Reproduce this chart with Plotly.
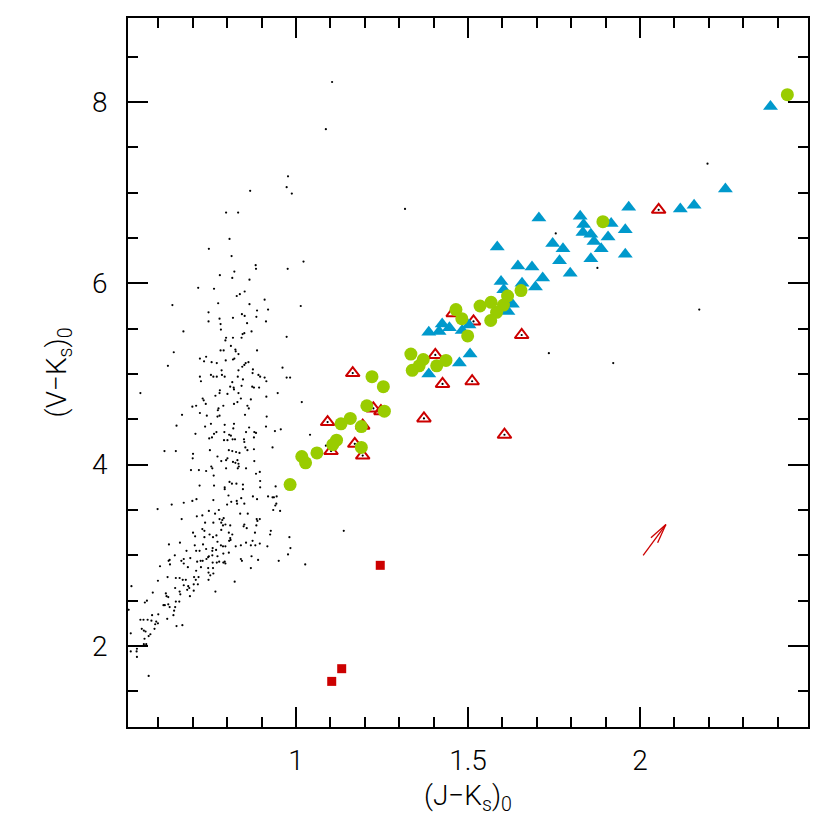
import math
import plotly.graph_objects as go

# field stars (small black dots)
field_jk = [1.105, 1.087, 0.977, 0.973, 0.988, 0.867, 0.797, 0.832, 0.807, 0.747, 0.813, 1.317, 1.022, 0.976,
            1.014, 0.973, 0.961, 0.973, 0.983, 1.017, 0.956, 1.041, 1.087, 1.735, 2.196, 1.755, 1.876, 2.172,
            1.922, 1.139, 1.027,
            0.883, 0.884, 0.821, 0.779, 0.815, 0.865, 0.716, 0.762, 0.851, 0.837, 0.828, 0.909, 0.641, 0.774,
            0.865, 0.919, 0.887, 0.746, 0.843, 0.851, 0.885, 0.778, 0.817, 0.746, 0.913, 0.858, 0.781, 0.782,
            0.673, 0.871, 0.850, 0.845, 0.797, 0.795, 0.817, 0.842, 0.811, 0.824, 0.825, 0.887, 0.781, 0.790,
            0.645, 0.833, 0.739, 0.721, 0.733, 0.755, 0.770, 0.796, 0.821, 0.817, 0.854, 0.850, 0.862, 0.844,
            0.628, 0.784, 0.833, 0.875, 0.874, 0.785, 0.793, 0.753, 0.770, 0.760, 0.721, 0.724, 0.831, 0.846,
            0.815, 0.891, 0.896, 0.909, 0.914, 0.548, 0.809, 0.819, 0.820, 0.842, 0.873, 0.878, 0.893, 0.779,
            0.778, 0.766, 0.801, 0.833, 0.840, 0.869, 0.729, 0.732, 0.738, 0.947, 0.914, 0.699, 0.710, 0.775,
            0.773, 0.789, 0.820, 0.830, 0.859, 0.863, 0.669, 0.721, 0.741, 0.772, 0.778, 0.852, 0.915, 0.653,
            0.736, 0.753, 0.793, 0.820, 0.818, 0.864, 0.879, 0.855, 0.913, 0.939, 0.708, 0.762, 0.769, 0.756,
            0.748, 0.792, 0.806, 0.811, 0.816, 0.791, 0.801, 0.823, 0.849, 0.850, 0.878, 0.884, 0.878, 0.618,
            0.651, 0.701, 0.700, 0.750, 0.805, 0.815, 0.826, 0.836, 0.859, 0.853, 0.932, 0.783, 0.772, 0.797,
            0.801, 0.817, 0.824, 0.833, 0.830, 0.834, 0.879, 0.695, 0.718, 0.739, 0.761, 0.754, 0.757, 0.797,
            0.831, 0.855, 0.884, 0.895,
            0.720, 0.762, 0.793, 0.793, 0.807, 0.814, 0.827, 0.846, 0.846, 0.896, 0.896, 0.941, 0.804, 0.812,
            0.828, 0.829, 0.850, 0.841, 0.875, 0.887, 0.919, 0.932, 0.936, 0.944, 0.943, 0.940, 0.934, 0.954,
            0.639, 0.674, 0.699, 0.711, 0.760, 0.800, 0.598, 0.747, 0.765, 0.776, 0.838, 0.860, 0.668, 0.712,
            0.728, 0.790, 0.786, 0.778, 0.886, 0.888, 0.895, 0.736, 0.760, 0.783, 0.795, 0.788, 0.850, 0.848,
            0.857, 0.885, 0.809, 0.728, 0.734, 0.701, 0.749, 0.769, 0.783, 0.805, 0.815, 0.881, 0.927, 0.925,
            0.707, 0.734, 0.759, 0.809, 0.806, 0.810, 0.663, 0.772, 0.631, 0.706, 0.730, 0.782, 0.788, 0.795,
            0.825, 0.840, 0.855, 0.869, 0.874, 0.882, 0.895, 0.917, 0.981, 0.984, 0.682, 0.710, 0.720, 0.739,
            0.758, 0.757, 0.768, 0.789, 0.805, 0.648, 0.674, 0.667, 0.633, 0.630, 0.693, 0.723, 0.729, 0.740,
            0.745, 0.747, 0.757, 0.772, 0.770, 0.758, 0.789, 0.793, 0.795, 0.777, 0.713, 0.840, 0.843, 0.871,
            0.890, 0.950, 0.977, 0.605, 0.634, 0.674, 0.686, 0.724, 0.745, 0.759, 0.869, 0.710, 0.746, 0.751,
            0.760, 0.522, 0.599, 0.627, 0.651, 0.662, 0.671, 0.680, 0.704, 0.709, 0.717, 0.746, 0.674, 0.687,
            0.703, 0.715, 0.822, 0.684, 0.690, 0.649, 0.662, 0.664, 0.692, 0.703, 0.766, 0.584, 0.622, 0.624,
            0.629, 0.567, 0.561, 0.651, 0.661, 0.514, 0.615, 0.619, 0.629, 0.633, 0.649, 0.646, 0.600, 0.582,
            0.626, 0.644, 0.548, 0.557, 0.569, 0.580, 0.594, 0.599, 0.591, 0.589, 0.552, 0.558, 0.563, 0.653,
            0.670, 0.520, 0.577, 0.572, 0.560, 0.558, 0.565, 0.520, 0.538, 0.537, 0.538, 0.572]
field_vk = [8.22, 7.70, 7.18, 7.06, 6.99, 7.02, 6.78, 6.78, 6.49, 6.38, 6.30, 6.82, 6.24, 6.16,
            5.75, 5.41, 5.07, 4.96, 4.96, 4.69, 4.39, 4.33, 4.21, 5.23, 7.32, 6.55, 6.17, 5.71,
            5.12, 3.27, 2.90,
            6.20, 6.16, 6.13, 6.09, 6.06, 6.04, 5.95, 5.94, 5.91, 5.88, 5.86, 5.82, 5.76, 5.78,
            5.77, 5.71, 5.70, 5.68, 5.66, 5.64, 5.63, 5.61, 5.62, 5.58, 5.58, 5.56, 5.55, 5.49,
            5.47, 5.47, 5.45, 5.44, 5.40, 5.37, 5.40, 5.40, 5.31, 5.27, 5.25, 5.26, 5.26, 5.26,
            5.24, 5.22, 5.19, 5.17, 5.14, 5.13, 5.12, 5.15, 5.17, 5.16, 5.12, 5.10, 5.13, 5.08,
            5.09, 5.04, 5.04, 5.05, 5.01, 4.99, 4.97, 4.99, 4.97, 4.97, 4.97, 4.92, 4.97, 4.94,
            4.91, 4.99, 4.97, 4.96, 4.92, 4.79, 4.86, 4.85, 4.83, 4.87, 4.86, 4.85, 4.85, 4.82,
            4.79, 4.76, 4.78, 4.79, 4.73, 4.72, 4.73, 4.71, 4.67, 4.79, 4.75, 4.64, 4.65, 4.62,
            4.60, 4.65, 4.67, 4.69, 4.65, 4.62, 4.55, 4.57, 4.54, 4.53, 4.54, 4.55, 4.53, 4.43,
            4.42, 4.45, 4.44, 4.45, 4.40, 4.41, 4.36, 4.36, 4.42, 4.37, 4.34, 4.34, 4.36, 4.30,
            4.29, 4.36, 4.33, 4.32, 4.28, 4.27, 4.27, 4.28, 4.28, 4.25, 4.30, 4.35, 4.17, 4.15,
            4.15, 4.12, 4.07, 4.16, 4.16, 4.15, 4.14, 4.13, 4.16, 4.19, 4.19, 4.04, 4.09, 4.05,
            4.07, 4.03, 4.02, 4.01, 4.05, 3.98, 4.04, 3.94, 3.94, 3.93, 3.88, 3.98, 3.96, 3.96,
            3.96, 3.96, 3.90, 3.92,
            3.77, 3.77, 3.75, 3.73, 3.81, 3.79, 3.79, 3.78, 3.73, 3.75, 3.82, 3.76, 3.66, 3.59,
            3.60, 3.57, 3.57, 3.63, 3.65, 3.62, 3.65, 3.64, 3.64, 3.65, 3.57, 3.55, 3.50, 3.49,
            3.56, 3.58, 3.60, 3.62, 3.61, 3.56, 3.51, 3.49, 3.46, 3.50, 3.46, 3.46, 3.40, 3.43,
            3.44, 3.41, 3.39, 3.40, 3.40, 3.38, 3.40, 3.36, 3.36, 3.36, 3.34, 3.33, 3.34, 3.32,
            3.30, 3.33, 3.33, 3.29, 3.27, 3.25, 3.23, 3.22, 3.28, 3.25, 3.23, 3.25, 3.27, 3.23,
            3.21, 3.20, 3.20, 3.19, 3.16, 3.17, 3.14, 3.15, 3.12, 3.11, 3.12, 3.11, 3.10, 3.10,
            3.10, 3.11, 3.14, 3.11, 3.16, 3.11, 3.13, 3.10, 3.20, 3.08, 3.05, 3.05, 3.05, 3.07,
            3.08, 3.05, 3.06, 3.02, 3.03, 3.00, 2.96, 2.94, 2.95, 2.94, 2.97, 2.94, 2.94, 2.96,
            2.98, 2.99, 3.00, 2.99, 2.92, 2.92, 2.92, 2.93, 2.91, 2.93, 2.93, 2.96, 2.94, 2.99,
            2.95, 2.94, 3.01, 2.88, 2.90, 2.91, 2.87, 2.87, 2.86, 2.86, 2.86, 2.83, 2.81, 2.78,
            2.80, 2.66, 2.72, 2.76, 2.75, 2.75, 2.73, 2.73, 2.76, 2.73, 2.76, 2.73, 2.67, 2.66,
            2.68, 2.68, 2.71, 2.62, 2.64, 2.64, 2.60, 2.57, 2.55, 2.61, 2.60, 2.59, 2.58, 2.55,
            2.54, 2.50, 2.48, 2.49, 2.49, 2.40, 2.45, 2.45, 2.46, 2.43, 2.43, 2.39, 2.35, 2.34,
            2.30, 2.34, 2.29, 2.29, 2.29, 2.28, 2.27, 2.25, 2.24, 2.19, 2.19, 2.17, 2.16, 2.22,
            2.23, 2.14, 2.13, 2.11, 2.08, 2.02, 2.02, 1.94, 1.97, 1.94, 1.88, 1.67]

# green filled circles
green_jk = [1.654, 1.615, 1.603, 1.583, 1.566, 1.567, 1.535, 1.465, 1.482, 1.499, 1.334, 1.370, 1.358,
            1.338, 1.409, 1.436, 1.221, 1.254, 1.206, 1.257, 1.158, 1.131, 1.190, 1.118, 1.107, 1.190,
            1.061, 1.017, 1.028, 0.983, 2.428, 1.892]
green_vk = [5.92, 5.86, 5.76, 5.68, 5.59, 5.79, 5.75, 5.71, 5.61, 5.42, 5.22, 5.16, 5.09,
            5.04, 5.09, 5.15, 4.97, 4.86, 4.65, 4.59, 4.51, 4.45, 4.42, 4.27, 4.22, 4.19,
            4.13, 4.09, 4.02, 3.78, 8.08, 6.68]

# blue filled triangles
blue_jk = [1.706, 1.585, 1.746, 1.645, 1.686, 1.717, 1.596, 1.657, 1.696, 1.604, 1.629, 1.616, 1.425,
           1.386, 1.416, 1.446, 1.503, 1.483, 1.506, 1.475, 1.386, 2.379, 2.248, 2.157, 2.117, 1.967,
           1.826, 1.916, 1.836, 1.957, 1.834, 1.857, 1.907, 1.866, 1.776, 1.887, 1.766, 1.857, 1.957,
           1.797]
blue_vk = [6.72, 6.40, 6.44, 6.19, 6.18, 6.06, 6.02, 6.00, 5.96, 5.93, 5.77, 5.69, 5.55,
           5.46, 5.47, 5.51, 5.54, 5.48, 5.22, 5.12, 5.00, 7.95, 7.04, 6.86, 6.82, 6.84,
           6.74, 6.66, 6.65, 6.59, 6.56, 6.54, 6.51, 6.46, 6.38, 6.38, 6.25, 6.27, 6.32,
           6.11]

# red open triangles
red_jk = [1.656, 1.516, 1.457, 1.405, 1.426, 1.512, 1.165, 1.225, 1.247, 1.372, 1.092, 1.194, 1.606,
          1.171, 1.102, 1.194, 2.054]
red_vk = [5.43, 5.58, 5.67, 5.21, 4.89, 4.92, 5.01, 4.62, 4.59, 4.51, 4.47, 4.43, 4.33,
          4.23, 4.15, 4.10, 6.81]

# red filled squares
sq_jk = [1.245, 1.133, 1.104]
sq_vk = [2.89, 1.75, 1.61]

# reddening vector
arrow_start = (2.009, 3.00)
arrow_end = (2.075, 3.34)

x_range = [0.512, 2.488]
y_range = [1.107, 8.926]

GREEN = "#99cc00"
BLUE = "#0099cc"
RED = "#cc0000"
FONT = dict(family="Roboto, Liberation Sans, Arial, sans-serif", size=28, color="black", weight=300)

fig = go.Figure()
fig.add_trace(go.Scatter(x=field_jk, y=field_vk, mode="markers",
                         marker=dict(size=2.2, color="black")))
fig.add_trace(go.Scatter(x=red_jk, y=red_vk, mode="markers",
                         marker=dict(symbol="triangle-up-open", size=12, color=RED,
                                     line=dict(width=2, color=RED))))
fig.add_trace(go.Scatter(x=red_jk, y=red_vk, mode="markers",
                         marker=dict(size=2.2, color="black")))
fig.add_trace(go.Scatter(x=blue_jk, y=blue_vk, mode="markers",
                         marker=dict(symbol="triangle-up", size=13, color=BLUE)))
fig.add_trace(go.Scatter(x=green_jk, y=green_vk, mode="markers",
                         marker=dict(symbol="circle", size=13, color=GREEN)))
fig.add_trace(go.Scatter(x=sq_jk, y=sq_vk, mode="markers",
                         marker=dict(symbol="square", size=9, color=RED)))

# arrow: shaft plus two barbs, barbs computed in pixel space
W, H = 680, 709
sx = W / (x_range[1] - x_range[0])
sy = H / (y_range[1] - y_range[0])
dx = (arrow_end[0] - arrow_start[0]) * sx
dy = (arrow_end[1] - arrow_start[1]) * sy
ang = math.atan2(dy, dx)
fig.add_shape(type="line", x0=arrow_start[0], y0=arrow_start[1], x1=arrow_end[0], y1=arrow_end[1],
              line=dict(color=RED, width=1.3))
for s in (-1, 1):
    a = ang + math.pi + s * math.radians(12)
    bx = arrow_end[0] + 20 * math.cos(a) / sx
    by = arrow_end[1] + 20 * math.sin(a) / sy
    fig.add_shape(type="line", x0=arrow_end[0], y0=arrow_end[1], x1=bx, y1=by,
                  line=dict(color=RED, width=1.3))

axis_common = dict(showgrid=False, zeroline=False, showline=True, linecolor="black", linewidth=1.8,
                   mirror="ticks", ticks="inside", tickcolor="black", tickwidth=1.5, ticklen=20,
                   tickfont=FONT, automargin=False)

fig.update_xaxes(range=x_range, tickvals=[1, 1.5, 2],
                 minor=dict(dtick=0.1, tick0=0, ticks="inside", ticklen=10, tickcolor="black", tickwidth=1.5),
                 ticklabelstandoff=7,
                 title=dict(text="(J\u2212K<sub>s</sub>)<sub>0</sub>", font=FONT, standoff=10),
                 **axis_common)
fig.update_yaxes(range=y_range, tickvals=[2, 4, 6, 8],
                 minor=dict(dtick=0.5, tick0=0, ticks="inside", ticklen=10, tickcolor="black", tickwidth=1.5),
                 ticklabelstandoff=13,
                 title=dict(text="(V\u2212K<sub>s</sub>)<sub>0</sub>", font=FONT, standoff=17),
                 **axis_common)

# the page body adds an 8px offset, so margins are shifted to land the frame where the reference has it
fig.update_layout(width=830, height=830, showlegend=False,
                  margin=dict(l=120, r=30, t=10, b=111),
                  plot_bgcolor="white", paper_bgcolor="white")

fig.write_html("out.html")
